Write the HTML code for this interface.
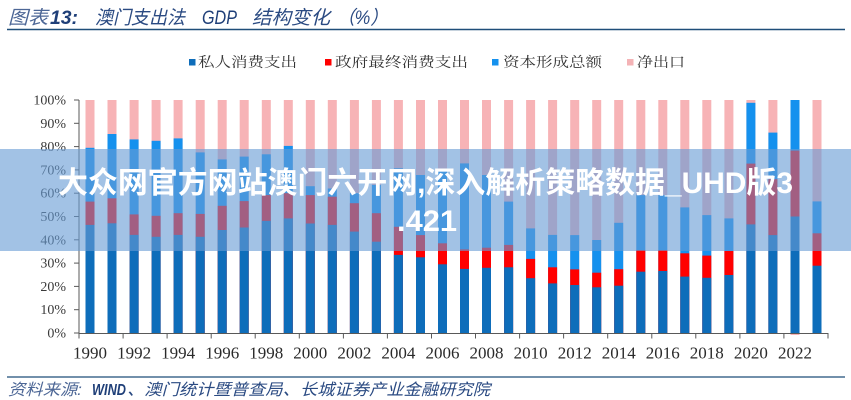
<!DOCTYPE html>
<html>
<head>
<meta charset="utf-8">
<style>
html,body{margin:0;padding:0;background:#fff;}
svg{display:block;}
</style>
</head>
<body>
<svg width="851" height="400" viewBox="0 0 851 400" xmlns="http://www.w3.org/2000/svg">
<rect x="0" y="0" width="851" height="400" fill="#ffffff"/>

<!-- Title -->
<g font-family="'Liberation Sans','Noto Sans CJK SC',sans-serif" font-style="italic" font-size="19">
<text x="8" y="24" fill="#4d6796" textLength="40" lengthAdjust="spacingAndGlyphs">图表</text>
<text x="50" y="24" fill="#1f3f78" font-weight="bold" textLength="28" lengthAdjust="spacingAndGlyphs">13:</text>
<text x="95" y="24" fill="#2a4a82" textLength="90" lengthAdjust="spacingAndGlyphs">澳门支出法</text>
<text x="202" y="24" fill="#1f3f78" textLength="35" lengthAdjust="spacingAndGlyphs">GDP</text>
<text x="252" y="24" fill="#2a4a82" textLength="78" lengthAdjust="spacingAndGlyphs">结构变化</text>
<text x="337" y="24" fill="#2a4a82" textLength="51" lengthAdjust="spacingAndGlyphs">（%）</text>
</g>
<line x1="7" y1="29.5" x2="845" y2="29.5" stroke="#1f4e79" stroke-width="1.5"/>

<!-- Legend -->
<g font-family="'Liberation Serif','Noto Serif CJK SC',serif" font-size="14" fill="#333">
<rect x="189" y="59" width="6.5" height="6.5" fill="#0e6dba"/>
<text x="198" y="67" textLength="99" lengthAdjust="spacingAndGlyphs">私人消费支出</text>
<rect x="325" y="59" width="6.5" height="6.5" fill="#ff0000"/>
<text x="335" y="67" textLength="133" lengthAdjust="spacingAndGlyphs">政府最终消费支出</text>
<rect x="492" y="59" width="6.5" height="6.5" fill="#1591ee"/>
<text x="503" y="67" textLength="99" lengthAdjust="spacingAndGlyphs">资本形成总额</text>
<rect x="627" y="59" width="6.5" height="6.5" fill="#f4b3b6"/>
<text x="637" y="67" textLength="48" lengthAdjust="spacingAndGlyphs">净出口</text>
</g>

<!-- Bars: pink full, then capital, gov, private overlay from bottom -->
<g id="bars">
<!-- helper: each g translated to bar left edge -->
<g transform="translate(85.5,0)"><rect y="100" width="9" height="233" fill="#f7b3b6"/><rect y="147.8" width="9" height="185.2" fill="#1591ee"/><rect y="201.6" width="9" height="131.4" fill="#ff0000"/><rect y="224.9" width="9" height="108.1" fill="#0e6dba"/></g>
<g transform="translate(107.5,0)"><rect y="100" width="9" height="233" fill="#f7b3b6"/><rect y="134.0" width="9" height="199.0" fill="#1591ee"/><rect y="198.3" width="9" height="134.7" fill="#ff0000"/><rect y="223.3" width="9" height="109.7" fill="#0e6dba"/></g>
<g transform="translate(129.6,0)"><rect y="100" width="9" height="233" fill="#f7b3b6"/><rect y="139.4" width="9" height="193.6" fill="#1591ee"/><rect y="214.4" width="9" height="118.6" fill="#ff0000"/><rect y="234.9" width="9" height="98.1" fill="#0e6dba"/></g>
<g transform="translate(151.6,0)"><rect y="100" width="9" height="233" fill="#f7b3b6"/><rect y="140.8" width="9" height="192.2" fill="#1591ee"/><rect y="215.8" width="9" height="117.2" fill="#ff0000"/><rect y="236.8" width="9" height="96.2" fill="#0e6dba"/></g>
<g transform="translate(173.6,0)"><rect y="100" width="9" height="233" fill="#f7b3b6"/><rect y="138.4" width="9" height="194.6" fill="#1591ee"/><rect y="213.2" width="9" height="119.8" fill="#ff0000"/><rect y="234.9" width="9" height="98.1" fill="#0e6dba"/></g>
<g transform="translate(195.7,0)"><rect y="100" width="9" height="233" fill="#f7b3b6"/><rect y="152.4" width="9" height="180.6" fill="#1591ee"/><rect y="213.9" width="9" height="119.1" fill="#ff0000"/><rect y="236.8" width="9" height="96.2" fill="#0e6dba"/></g>
<g transform="translate(217.7,0)"><rect y="100" width="9" height="233" fill="#f7b3b6"/><rect y="159.4" width="9" height="173.6" fill="#1591ee"/><rect y="205.8" width="9" height="127.2" fill="#ff0000"/><rect y="230.0" width="9" height="103.0" fill="#0e6dba"/></g>
<g transform="translate(239.7,0)"><rect y="100" width="9" height="233" fill="#f7b3b6"/><rect y="156.6" width="9" height="176.4" fill="#1591ee"/><rect y="201.1" width="9" height="131.9" fill="#ff0000"/><rect y="227.5" width="9" height="105.5" fill="#0e6dba"/></g>
<g transform="translate(261.8,0)"><rect y="100" width="9" height="233" fill="#f7b3b6"/><rect y="154.3" width="9" height="178.7" fill="#1591ee"/><rect y="195.1" width="9" height="137.9" fill="#ff0000"/><rect y="220.9" width="9" height="112.1" fill="#0e6dba"/></g>
<g transform="translate(283.8,0)"><rect y="100" width="9" height="233" fill="#f7b3b6"/><rect y="145.9" width="9" height="187.1" fill="#1591ee"/><rect y="193.2" width="9" height="139.8" fill="#ff0000"/><rect y="218.4" width="9" height="114.6" fill="#0e6dba"/></g>
<g transform="translate(305.8,0)"><rect y="100" width="9" height="233" fill="#f7b3b6"/><rect y="186.2" width="9" height="146.8" fill="#1591ee"/><rect y="195.1" width="9" height="137.9" fill="#ff0000"/><rect y="223.5" width="9" height="109.5" fill="#0e6dba"/></g>
<g transform="translate(327.8,0)"><rect y="100" width="9" height="233" fill="#f7b3b6"/><rect y="188.5" width="9" height="144.5" fill="#1591ee"/><rect y="196.7" width="9" height="136.3" fill="#ff0000"/><rect y="224.9" width="9" height="108.1" fill="#0e6dba"/></g>
<g transform="translate(349.9,0)"><rect y="100" width="9" height="233" fill="#f7b3b6"/><rect y="193.2" width="9" height="139.8" fill="#1591ee"/><rect y="203.2" width="9" height="129.8" fill="#ff0000"/><rect y="231.6" width="9" height="101.4" fill="#0e6dba"/></g>
<g transform="translate(371.9,0)"><rect y="100" width="9" height="233" fill="#f7b3b6"/><rect y="185.0" width="9" height="148.0" fill="#1591ee"/><rect y="213.2" width="9" height="119.8" fill="#ff0000"/><rect y="241.7" width="9" height="91.3" fill="#0e6dba"/></g>
<g transform="translate(393.9,0)"><rect y="100" width="9" height="233" fill="#f7b3b6"/><rect y="168.3" width="9" height="164.7" fill="#1591ee"/><rect y="226.8" width="9" height="106.2" fill="#ff0000"/><rect y="254.9" width="9" height="78.1" fill="#0e6dba"/></g>
<g transform="translate(416.0,0)"><rect y="100" width="9" height="233" fill="#f7b3b6"/><rect y="175.0" width="9" height="158.0" fill="#1591ee"/><rect y="235.1" width="9" height="97.9" fill="#ff0000"/><rect y="257.3" width="9" height="75.7" fill="#0e6dba"/></g>
<g transform="translate(438.0,0)"><rect y="100" width="9" height="233" fill="#f7b3b6"/><rect y="169.9" width="9" height="163.1" fill="#1591ee"/><rect y="243.3" width="9" height="89.7" fill="#ff0000"/><rect y="264.3" width="9" height="68.7" fill="#0e6dba"/></g>
<g transform="translate(460.0,0)"><rect y="100" width="9" height="233" fill="#f7b3b6"/><rect y="163.4" width="9" height="169.6" fill="#1591ee"/><rect y="249.4" width="9" height="83.6" fill="#ff0000"/><rect y="268.9" width="9" height="64.1" fill="#0e6dba"/></g>
<g transform="translate(482.0,0)"><rect y="100" width="9" height="233" fill="#f7b3b6"/><rect y="175.0" width="9" height="158.0" fill="#1591ee"/><rect y="247.7" width="9" height="85.3" fill="#ff0000"/><rect y="267.8" width="9" height="65.2" fill="#0e6dba"/></g>
<g transform="translate(504.1,0)"><rect y="100" width="9" height="233" fill="#f7b3b6"/><rect y="201.6" width="9" height="131.4" fill="#1591ee"/><rect y="244.9" width="9" height="88.1" fill="#ff0000"/><rect y="267.3" width="9" height="65.7" fill="#0e6dba"/></g>
<g transform="translate(526.1,0)"><rect y="100" width="9" height="233" fill="#f7b3b6"/><rect y="228.4" width="9" height="104.6" fill="#1591ee"/><rect y="258.9" width="9" height="74.1" fill="#ff0000"/><rect y="278.2" width="9" height="54.8" fill="#0e6dba"/></g>
<g transform="translate(548.1,0)"><rect y="100" width="9" height="233" fill="#f7b3b6"/><rect y="234.9" width="9" height="98.1" fill="#1591ee"/><rect y="267.3" width="9" height="65.7" fill="#ff0000"/><rect y="283.4" width="9" height="49.6" fill="#0e6dba"/></g>
<g transform="translate(570.2,0)"><rect y="100" width="9" height="233" fill="#f7b3b6"/><rect y="235.1" width="9" height="97.9" fill="#1591ee"/><rect y="269.4" width="9" height="63.6" fill="#ff0000"/><rect y="285.0" width="9" height="48.0" fill="#0e6dba"/></g>
<g transform="translate(592.2,0)"><rect y="100" width="9" height="233" fill="#f7b3b6"/><rect y="240.0" width="9" height="93.0" fill="#1591ee"/><rect y="272.7" width="9" height="60.3" fill="#ff0000"/><rect y="287.3" width="9" height="45.7" fill="#0e6dba"/></g>
<g transform="translate(614.2,0)"><rect y="100" width="9" height="233" fill="#f7b3b6"/><rect y="222.8" width="9" height="110.2" fill="#1591ee"/><rect y="269.2" width="9" height="63.8" fill="#ff0000"/><rect y="285.7" width="9" height="47.3" fill="#0e6dba"/></g>
<g transform="translate(636.3,0)"><rect y="100" width="9" height="233" fill="#f7b3b6"/><rect y="195.1" width="9" height="137.9" fill="#1591ee"/><rect y="250.1" width="9" height="82.9" fill="#ff0000"/><rect y="271.7" width="9" height="61.3" fill="#0e6dba"/></g>
<g transform="translate(658.3,0)"><rect y="100" width="9" height="233" fill="#f7b3b6"/><rect y="195.1" width="9" height="137.9" fill="#1591ee"/><rect y="250.1" width="9" height="82.9" fill="#ff0000"/><rect y="271.0" width="9" height="62.0" fill="#0e6dba"/></g>
<g transform="translate(680.3,0)"><rect y="100" width="9" height="233" fill="#f7b3b6"/><rect y="207.4" width="9" height="125.6" fill="#1591ee"/><rect y="253.3" width="9" height="79.7" fill="#ff0000"/><rect y="276.6" width="9" height="56.4" fill="#0e6dba"/></g>
<g transform="translate(702.3,0)"><rect y="100" width="9" height="233" fill="#f7b3b6"/><rect y="215.1" width="9" height="117.9" fill="#1591ee"/><rect y="255.6" width="9" height="77.4" fill="#ff0000"/><rect y="277.8" width="9" height="55.2" fill="#0e6dba"/></g>
<g transform="translate(724.4,0)"><rect y="100" width="9" height="233" fill="#f7b3b6"/><rect y="218.4" width="9" height="114.6" fill="#1591ee"/><rect y="251.0" width="9" height="82.0" fill="#ff0000"/><rect y="275.0" width="9" height="58.0" fill="#0e6dba"/></g>
<g transform="translate(746.4,0)"><rect y="100" width="9" height="233" fill="#f7b3b6"/><rect y="102.8" width="9" height="230.2" fill="#1591ee"/><rect y="163.6" width="9" height="169.4" fill="#ff0000"/><rect y="224.4" width="9" height="108.6" fill="#0e6dba"/></g>
<g transform="translate(768.4,0)"><rect y="100" width="9" height="233" fill="#f7b3b6"/><rect y="132.6" width="9" height="200.4" fill="#1591ee"/><rect y="179.2" width="9" height="153.8" fill="#ff0000"/><rect y="235.1" width="9" height="97.9" fill="#0e6dba"/></g>
<g transform="translate(790.5,0)"><rect y="333" width="9" height="2" fill="#f7b3b6"/><rect y="100" width="9" height="233" fill="#1591ee"/><rect y="150.6" width="9" height="182.4" fill="#ff0000"/><rect y="216.5" width="9" height="116.5" fill="#0e6dba"/></g>
<g transform="translate(812.5,0)"><rect y="100" width="9" height="233" fill="#f7b3b6"/><rect y="201.4" width="9" height="131.6" fill="#1591ee"/><rect y="233.3" width="9" height="99.7" fill="#ff0000"/><rect y="265.7" width="9" height="67.3" fill="#0e6dba"/></g>
</g>

<!-- Axes -->
<g stroke="#595959" stroke-width="1" fill="none">
<line x1="79" y1="100" x2="79" y2="333"/>
<line x1="79" y1="333.5" x2="828" y2="333.5"/>
<line x1="74" y1="100" x2="79" y2="100"/>
<line x1="74" y1="123.3" x2="79" y2="123.3"/>
<line x1="74" y1="146.6" x2="79" y2="146.6"/>
<line x1="74" y1="169.9" x2="79" y2="169.9"/>
<line x1="74" y1="193.2" x2="79" y2="193.2"/>
<line x1="74" y1="216.5" x2="79" y2="216.5"/>
<line x1="74" y1="239.8" x2="79" y2="239.8"/>
<line x1="74" y1="263.1" x2="79" y2="263.1"/>
<line x1="74" y1="286.4" x2="79" y2="286.4"/>
<line x1="74" y1="309.7" x2="79" y2="309.7"/>
<line x1="74" y1="333" x2="79" y2="333"/>
<line x1="79" y1="333" x2="79" y2="338.5"/>
<line x1="123.1" y1="333" x2="123.1" y2="338.5"/>
<line x1="167.1" y1="333" x2="167.1" y2="338.5"/>
<line x1="211.2" y1="333" x2="211.2" y2="338.5"/>
<line x1="255.2" y1="333" x2="255.2" y2="338.5"/>
<line x1="299.3" y1="333" x2="299.3" y2="338.5"/>
<line x1="343.4" y1="333" x2="343.4" y2="338.5"/>
<line x1="387.4" y1="333" x2="387.4" y2="338.5"/>
<line x1="431.5" y1="333" x2="431.5" y2="338.5"/>
<line x1="475.5" y1="333" x2="475.5" y2="338.5"/>
<line x1="519.6" y1="333" x2="519.6" y2="338.5"/>
<line x1="563.6" y1="333" x2="563.6" y2="338.5"/>
<line x1="607.7" y1="333" x2="607.7" y2="338.5"/>
<line x1="651.8" y1="333" x2="651.8" y2="338.5"/>
<line x1="695.8" y1="333" x2="695.8" y2="338.5"/>
<line x1="739.9" y1="333" x2="739.9" y2="338.5"/>
<line x1="783.9" y1="333" x2="783.9" y2="338.5"/>
<line x1="828" y1="333" x2="828" y2="338.5"/>
</g>

<!-- Y labels -->
<g font-family="'Liberation Serif',serif" font-size="14" fill="#3a3a3a" text-anchor="end">
<text x="66" y="104.5">100%</text>
<text x="66" y="127.8">90%</text>
<text x="66" y="151.1">80%</text>
<text x="66" y="174.4">70%</text>
<text x="66" y="197.7">60%</text>
<text x="66" y="221">50%</text>
<text x="66" y="244.3">40%</text>
<text x="66" y="267.6">30%</text>
<text x="66" y="290.9">20%</text>
<text x="66" y="314.2">10%</text>
<text x="66" y="337.5">0%</text>
</g>

<!-- X labels -->
<g font-family="'Liberation Serif',serif" font-size="17" fill="#2a2a2a">
<text x="73" y="358.5" textLength="34" lengthAdjust="spacingAndGlyphs">1990</text>
<text x="117.1" y="358.5" textLength="34" lengthAdjust="spacingAndGlyphs">1992</text>
<text x="161.1" y="358.5" textLength="34" lengthAdjust="spacingAndGlyphs">1994</text>
<text x="205.2" y="358.5" textLength="34" lengthAdjust="spacingAndGlyphs">1996</text>
<text x="249.3" y="358.5" textLength="34" lengthAdjust="spacingAndGlyphs">1998</text>
<text x="293.3" y="358.5" textLength="34" lengthAdjust="spacingAndGlyphs">2000</text>
<text x="337.4" y="358.5" textLength="34" lengthAdjust="spacingAndGlyphs">2002</text>
<text x="381.4" y="358.5" textLength="34" lengthAdjust="spacingAndGlyphs">2004</text>
<text x="425.5" y="358.5" textLength="34" lengthAdjust="spacingAndGlyphs">2006</text>
<text x="469.5" y="358.5" textLength="34" lengthAdjust="spacingAndGlyphs">2008</text>
<text x="513.6" y="358.5" textLength="34" lengthAdjust="spacingAndGlyphs">2010</text>
<text x="557.7" y="358.5" textLength="34" lengthAdjust="spacingAndGlyphs">2012</text>
<text x="601.7" y="358.5" textLength="34" lengthAdjust="spacingAndGlyphs">2014</text>
<text x="645.8" y="358.5" textLength="34" lengthAdjust="spacingAndGlyphs">2016</text>
<text x="689.8" y="358.5" textLength="34" lengthAdjust="spacingAndGlyphs">2018</text>
<text x="733.9" y="358.5" textLength="34" lengthAdjust="spacingAndGlyphs">2020</text>
<text x="778" y="358.5" textLength="34" lengthAdjust="spacingAndGlyphs">2022</text>
</g>

<!-- Source -->
<line x1="7" y1="377" x2="845" y2="377" stroke="#1f4e79" stroke-width="1.3"/>
<g font-family="'Liberation Sans','Noto Sans CJK SC',sans-serif" font-style="italic" font-size="16">
<text x="8" y="395" fill="#4d6796" textLength="74" lengthAdjust="spacingAndGlyphs">资料来源:</text>
<text x="92" y="395" fill="#1f3f78" font-weight="bold" textLength="34" lengthAdjust="spacingAndGlyphs">WIND</text>
<text x="127" y="395" fill="#2a4a82" textLength="363" lengthAdjust="spacingAndGlyphs">、澳门统计暨普查局、长城证券产业金融研究院</text>
</g>

<!-- Overlay banner -->
<rect x="0" y="149" width="851" height="102" fill="rgb(103,156,213)" fill-opacity="0.61"/>
<g font-family="'Liberation Sans','Noto Sans CJK SC',sans-serif" font-weight="bold" font-size="30" fill="#ffffff">
<text x="58" y="193" textLength="735" lengthAdjust="spacingAndGlyphs">大众网官方网站澳门六开网,深入解析策略数据_UHD版3</text>
<text x="397" y="231" textLength="60" lengthAdjust="spacingAndGlyphs">.421</text>
</g>
</svg>
</body>
</html>
